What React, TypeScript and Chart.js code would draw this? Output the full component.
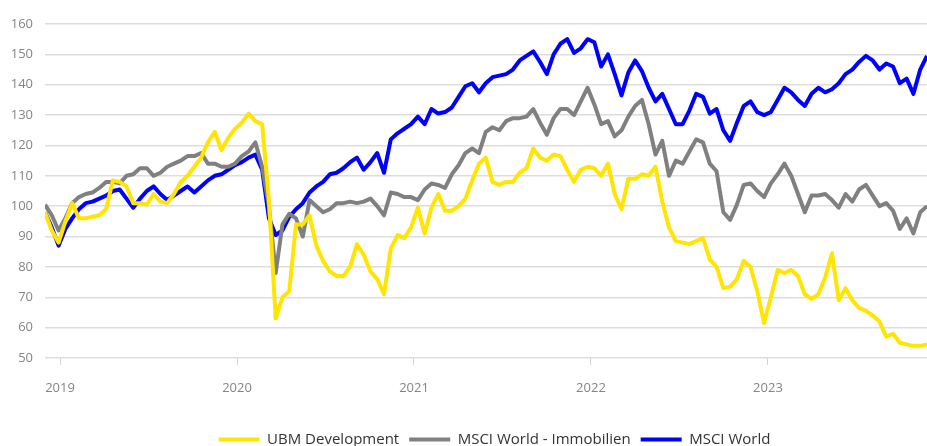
import React, { useEffect, useRef } from "react";
import { Chart, registerables } from "chart.js";

Chart.register(...registerables);

// Biweekly sampling starting 1 Dec 2018
const START_DATE = "2018-12-01";
const STEP_DAYS = 14;

const SERIES_LABELS = ["UBM Development", "MSCI World - Immobilien", "MSCI World"];
const SERIES_COLORS = ["#FFE500", "#808080", "#0000FF"];
const YEAR_TICKS = [2019, 2020, 2021, 2022, 2023];

const ubm = [
  98, 92, 88, 95, 101, 96, 96, 96.5, 97, 99,
  108.5, 108, 106.5, 101, 101, 100.5, 104, 101.5, 101, 104,
  108, 110, 113, 116, 121, 124.5, 118.5, 122.5, 125.5, 127.5,
  130.5, 128, 127, 102, 63, 70, 72, 94, 94, 97,
  87, 82, 78.5, 77, 77, 80, 87.5, 84, 78.5, 76,
  71, 86, 90.5, 89.5, 93, 99.5, 91, 99.5, 104, 98.5,
  98.5, 100, 102.5, 108.5, 114, 116, 108, 107, 108, 108,
  111, 112.5, 119, 116, 115, 117, 116.5, 112, 108, 112,
  113, 112.5, 110, 114, 104, 99, 109, 109, 110.5, 110,
  113, 101.5, 93, 88.5, 88, 87.5, 88.5, 89.5, 82.5, 80,
  73, 73.5, 76, 82, 80, 72, 61.5, 70, 79, 78,
  79, 77, 71, 69.5, 71, 76.5, 84.5, 69, 73, 69,
  66.5, 65.5, 64, 62, 57, 58, 55, 54.5, 54, 54, 54.5,
];

const immo = [
  100.5, 97, 92, 96, 101, 103, 104, 104.5, 106, 108,
  108, 107.5, 110, 110.5, 112.5, 112.5, 110, 111, 113, 114,
  115, 116.5, 116.5, 117.5, 114, 114, 113, 113, 114, 116.5,
  118, 121, 113, 100, 78, 94, 97.5, 96, 90, 102,
  100, 98, 99, 101, 101, 101.5, 101, 101.5, 102.5, 100,
  97, 104.5, 104, 103, 103, 102, 105.5, 107.5, 107, 106,
  110.5, 113.5, 117.5, 119, 117.5, 124.5, 126, 125, 128, 129,
  129, 129.5, 132, 127.5, 123.5, 129, 132, 132, 130, 134.5,
  139, 133.5, 127, 128, 123, 125, 129.5, 133, 135, 127,
  117, 121.5, 110, 115, 114, 118, 122, 121, 114, 111.5,
  98, 95.5, 100.5, 107, 107.5, 105, 103, 107.5, 110.5, 114,
  110, 104, 98, 103.5, 103.5, 104, 102, 99.5, 104, 101.5,
  105.5, 107, 103.5, 100, 101, 98.5, 92.5, 96, 91, 98, 100,
];

const world = [
  98, 93, 87, 92.5, 96, 99, 101, 101.5, 102.5, 103.5,
  105, 105.5, 102.5, 99.5, 102.5, 105, 106.5, 104, 102, 103.5,
  105, 106.5, 104.5, 106.5, 108.5, 110, 110.5, 112, 113.5, 114.5,
  116, 117, 112, 96, 90.5, 92, 96.5, 99, 101, 104.5,
  106.5, 108, 110.5, 111, 112.5, 114.5, 116, 112, 114.5, 117.5,
  111, 122, 124, 125.5, 127, 129.5, 127, 132, 130.5, 131,
  132.5, 136, 139.5, 140.5, 137.5, 140.5, 142.5, 143, 143.5, 145,
  148, 149.5, 151, 147.5, 143.5, 150, 153.5, 155, 150.5, 152,
  155, 154, 146, 150, 143.5, 136.5, 144, 148, 144.5, 139,
  134.5, 137, 132, 127, 127, 131.5, 137, 136, 130.5, 132,
  125, 121.5, 127.5, 133, 134.5, 131, 130, 131, 135, 139,
  137.5, 135, 133, 137, 139, 137.5, 138.5, 140.5, 143.5, 145,
  147.5, 149.5, 148, 145, 147, 146, 140.5, 142, 137, 145, 149.5,
];

function decimalYear(d: Date): number {
  const y = d.getUTCFullYear();
  const a = Date.UTC(y, 0, 1);
  const b = Date.UTC(y + 1, 0, 1);
  return y + (d.getTime() - a) / (b - a);
}

const dates: Date[] = ubm.map((_, i) => {
  const d = new Date(START_DATE + "T00:00:00Z");
  d.setUTCDate(d.getUTCDate() + i * STEP_DAYS);
  return d;
});
const xs = dates.map(decimalYear);

const FONT = "'Open Sans', 'Noto Sans', sans-serif";

const legendShift = {
  id: "legendShift",
  afterLayout(chart: any) {
    const lg = chart.legend;
    if (lg) {
      lg.left += 31;
      lg.right += 31;
    }
  },
};

export default function App() {
  const ref = useRef<HTMLCanvasElement | null>(null);

  useEffect(() => {
    document.body.style.margin = "0";
    document.body.style.overflow = "hidden";
    document.documentElement.style.overflow = "hidden";
    if (!ref.current) return;
    const all = [ubm, immo, world];
    const chart = new Chart(ref.current, {
      type: "line",
      data: {
        datasets: all.map((vals, k) => ({
          label: SERIES_LABELS[k],
          data: vals.map((v, i) => ({ x: xs[i], y: v })),
          borderColor: SERIES_COLORS[k],
          backgroundColor: SERIES_COLORS[k],
          borderWidth: 4,
          pointRadius: 0,
          tension: 0,
          borderJoinStyle: "round" as const,
        })),
      },
      options: {
        animation: false,
        responsive: true,
        maintainAspectRatio: false,
        layout: { padding: { top: 24, right: 0, left: 0, bottom: 0 } },
        scales: {
          x: {
            type: "linear",
            min: xs[0],
            max: xs[xs.length - 1],
            border: { display: false },
            grid: {
              drawOnChartArea: false,
              drawTicks: true,
              tickLength: 7,
              color: "#d4d4d4",
            },
            afterBuildTicks: (s: any) => {
              s.ticks = YEAR_TICKS.map((v) => ({ value: v }));
            },
            afterFit: (s: any) => {
              s.height = 64;
            },
            ticks: {
              color: "#858585",
              font: { family: FONT, size: 13 },
              padding: 15,
              maxRotation: 0,
              callback: (v: any) => String(v),
            },
          },
          y: {
            min: 50,
            max: 160,
            border: { display: false },
            grid: { color: "#dddddd", drawTicks: false, lineWidth: 1.5 },
            afterFit: (s: any) => {
              s.width = 45;
            },
            ticks: {
              stepSize: 10,
              color: "#858585",
              padding: 12,
              font: { family: FONT, size: 13 },
            },
          },
        },
        plugins: {
          tooltip: { enabled: false },
          legend: {
            position: "bottom",
            labels: {
              boxWidth: 41,
              boxHeight: 4,
              padding: 10,
              color: "#333333",
              font: { family: FONT, size: 15 },
              generateLabels: (c: any) =>
                Chart.defaults.plugins.legend.labels
                  .generateLabels(c)
                  .map((it: any) => ({ ...it, lineWidth: 0, fillStyle: it.strokeStyle })),
            },
          },
        },
      },
      plugins: [legendShift],
    });
    return () => chart.destroy();
  }, []);

  return (
    <div style={{ width: "927px", height: "457px", position: "relative" }}>
      <canvas ref={ref} />
    </div>
  );
}
